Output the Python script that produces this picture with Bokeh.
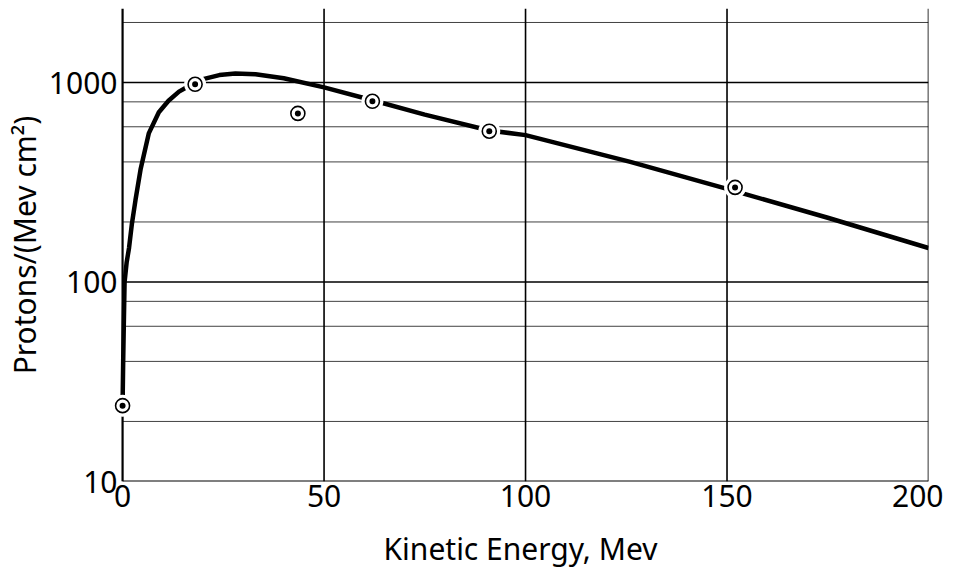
from bokeh.plotting import figure
from bokeh.models import Range1d, FixedTicker
from bokeh.embed import file_html
from bokeh.resources import INLINE

# ---- data ----
curve_energy = [0, 0.15, 0.3, 0.5, 1.0, 1.6, 2.3, 3.2, 4.5, 6.5, 9, 11.4, 14, 17,
                20, 24, 28, 33, 40, 50, 62, 75, 91, 100, 126, 150, 175, 200]
curve_flux = [24, 40, 60, 100, 125, 148, 195, 257, 370, 556, 710, 810, 900, 975,
              1040, 1090, 1110, 1100, 1050, 945, 815, 690, 575, 545, 400, 293, 210, 148]

point_energy = [0, 18, 43.5, 62, 91, 152]
point_flux = [24, 980, 700, 805, 570, 298]

x_ticks = [0, 50, 100, 150, 200]
y_ticks = [10, 100, 1000]
y_major_grid = [100, 1000]
y_minor_grid = [20, 40, 60, 80, 200, 400, 600, 800, 2000]
x_grid = [50, 100, 150, 200]

x_title = "Kinetic Energy, Mev"
y_title = "Protons/(Mev cm\u00b2)"

X_MIN, X_MAX = 0, 200
Y_MIN, Y_MAX = 10, 2350
FONT = "Noto Sans"

p = figure(width=943, height=575, y_axis_type="log",
           x_range=Range1d(-2.5, X_MAX), y_range=Range1d(Y_MIN, Y_MAX),
           output_backend="svg", toolbar_location=None,
           min_border_left=112, min_border_right=15,
           min_border_top=8, min_border_bottom=94)

p.background_fill_color = "white"
p.border_fill_color = "white"
p.outline_line_color = None
p.xgrid.grid_line_color = None
p.ygrid.grid_line_color = None

# axes (tick labels and titles; lines drawn below at x=0 / y=10)
for ax in (p.xaxis, p.yaxis):
    ax.axis_line_color = None
    ax.major_tick_line_color = None
    ax.minor_tick_line_color = None
    ax.major_tick_out = 0
    ax.major_tick_in = 0
    ax.minor_tick_out = 0
    ax.minor_tick_in = 0
    ax.major_label_text_font = FONT
    ax.major_label_text_color = "black"
    ax.major_label_text_font_size = "30px"
    ax.axis_label_text_font = FONT
    ax.axis_label_text_font_style = "normal"
    ax.axis_label_text_color = "black"
    ax.axis_label_text_font_size = "30px"

p.xaxis.ticker = FixedTicker(ticks=x_ticks)
p.yaxis.ticker = FixedTicker(ticks=y_ticks, minor_ticks=[])
p.xaxis.major_label_overrides = {t: str(t) for t in x_ticks}
p.yaxis.major_label_overrides = {t: str(t) for t in y_ticks}
p.xaxis.major_label_standoff = 3
p.yaxis.major_label_standoff = -5
p.xaxis.axis_label = x_title
p.yaxis.axis_label = y_title
p.xaxis.axis_label_standoff = 18
p.yaxis.axis_label_standoff = 1

# grid lines
n_min = len(y_minor_grid)
p.segment(x0=[X_MIN] * n_min, x1=[X_MAX] * n_min, y0=y_minor_grid, y1=y_minor_grid,
          line_color="black", line_width=1, line_alpha=0.75)
n_maj = len(y_major_grid)
p.segment(x0=[X_MIN] * n_maj, x1=[X_MAX] * n_maj, y0=y_major_grid, y1=y_major_grid,
          line_color="black", line_width=1.6)
n_x = len(x_grid)
p.segment(x0=x_grid, x1=x_grid, y0=[Y_MIN] * n_x, y1=[Y_MAX] * n_x,
          line_color="black", line_width=1.6)
# axis lines
p.segment(x0=[X_MIN, X_MIN], x1=[X_MIN, X_MAX], y0=[Y_MIN, Y_MIN], y1=[Y_MAX, Y_MIN],
          line_color="black", line_width=2.2)

# curve
p.line(curve_energy, curve_flux, line_color="black", line_width=4.5)

# markers (white gap, ring, dot)
p.scatter(point_energy, point_flux, size=22, fill_color="white", line_color=None)
p.scatter(point_energy, point_flux, size=14, fill_color="white",
          line_color="black", line_width=1.6)
p.scatter(point_energy, point_flux, size=6, fill_color="black", line_color=None)

open("out.html", "w").write(file_html(p, INLINE))
